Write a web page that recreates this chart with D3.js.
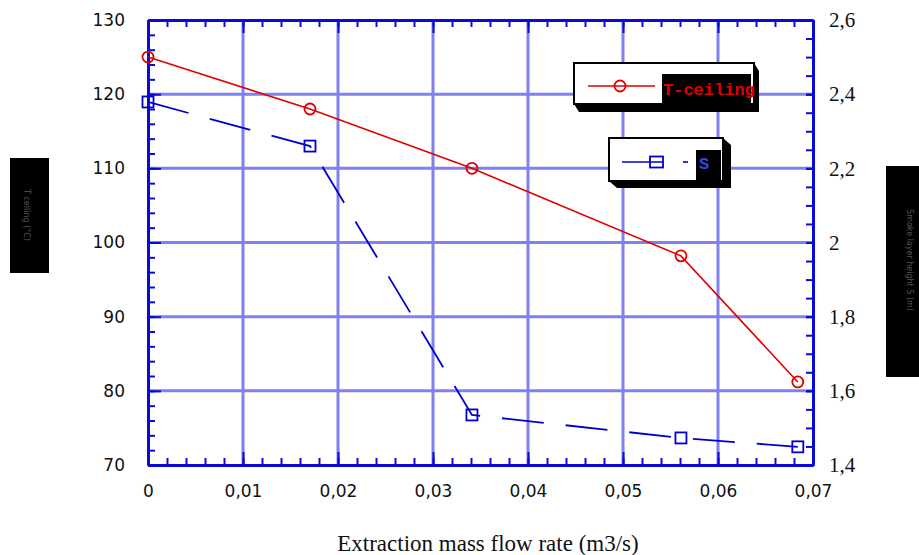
<!DOCTYPE html>
<meta charset="utf-8">
<head>
    <script src="https://d3js.org/d3.v7.min.js"></script>
    <style>
        body { margin: 0; background: white; }
        svg { display: block; }
    </style>
</head>
<body>
<div id="my_dataviz"></div>
<script>
    // data
    const flowRates = [0, 0.01705, 0.0341, 0.0561, 0.0684];
    const tCeiling = [125.0, 118.0, 110.0, 98.2, 81.2];
    const sValues = [2.379, 2.26, 1.535, 1.473, 1.449];

    const xTicks = [0, 0.01, 0.02, 0.03, 0.04, 0.05, 0.06, 0.07];
    const xTickLabels = ["0", "0,01", "0,02", "0,03", "0,04", "0,05", "0,06", "0,07"];
    const leftTicks = [70, 80, 90, 100, 110, 120, 130];
    const rightTicks = [1.4, 1.6, 1.8, 2, 2.2, 2.4, 2.6];
    const rightTickLabels = ["1,4", "1,6", "1,8", "2", "2,2", "2,4", "2,6"];

    const legendLabels = ["T-ceiling", "S"];

    const svg = d3.select("#my_dataviz").append("svg")
        .attr("width", 919)
        .attr("height", 555)

    const x = d3.scaleLinear().domain([0, 0.07]).range([148, 813])
    const yLeft = d3.scaleLinear().domain([70, 130]).range([465, 20])
    const yRight = d3.scaleLinear().domain([1.4, 2.6]).range([465, 20])

    const gridColor = "#8080ee"
    const axisColor = "#0a0ad8"

    // grid
    svg.append("g")
        .selectAll("line")
        .data(xTicks.slice(1, -1))
        .enter()
        .append("line")
        .attr("x1", d => x(d)).attr("x2", d => x(d))
        .attr("y1", 20).attr("y2", 465)
        .attr("stroke", gridColor)
        .attr("stroke-width", 3)

    svg.append("g")
        .selectAll("line")
        .data(leftTicks.slice(1, -1))
        .enter()
        .append("line")
        .attr("x1", 148).attr("x2", 813)
        .attr("y1", d => yLeft(d)).attr("y2", d => yLeft(d))
        .attr("stroke", gridColor)
        .attr("stroke-width", 3)

    function styleAxis(g) {
        g.selectAll(".domain").attr("stroke", axisColor).attr("stroke-width", 3)
        g.selectAll(".tick line").attr("stroke", axisColor).attr("stroke-width", 2)
    }

    const minorX = d3.range(0, 0.0701, 0.002)
    const minorLeft = d3.range(70, 130.1, 2)
    const minorRight = d3.range(1.4, 2.601, 0.05)

    // bottom axis
    svg.append("g")
        .attr("transform", "translate(0,465)")
        .call(d3.axisBottom(x).tickValues(minorX).tickSize(-7).tickSizeOuter(0).tickFormat(""))
        .call(styleAxis)

    svg.append("g")
        .attr("class", "bottom axis")
        .attr("transform", "translate(0,465)")
        .call(d3.axisBottom(x).tickValues(xTicks).tickSize(-13).tickSizeOuter(0).tickPadding(20)
            .tickFormat((d, i) => xTickLabels[i]))
        .call(styleAxis)

    // top axis
    svg.append("g")
        .attr("transform", "translate(0,20)")
        .call(d3.axisTop(x).tickValues(minorX).tickSize(-7).tickSizeOuter(0).tickFormat(""))
        .call(styleAxis)

    svg.append("g")
        .attr("transform", "translate(0,20)")
        .call(d3.axisTop(x).tickValues(xTicks).tickSize(-13).tickSizeOuter(0).tickFormat(""))
        .call(styleAxis)

    // left axis
    svg.append("g")
        .attr("transform", "translate(148,0)")
        .call(d3.axisLeft(yLeft).tickValues(minorLeft).tickSize(-7).tickSizeOuter(0).tickFormat(""))
        .call(styleAxis)

    svg.append("g")
        .attr("class", "left axis")
        .attr("transform", "translate(148,0)")
        .call(d3.axisLeft(yLeft).tickValues(leftTicks).tickSize(-13).tickSizeOuter(0).tickPadding(23))
        .call(styleAxis)

    // right axis
    svg.append("g")
        .attr("class", "right axis")
        .attr("transform", "translate(813,0)")
        .call(d3.axisRight(yRight).tickValues(minorRight).tickSize(-7).tickSizeOuter(0).tickFormat(""))
        .call(styleAxis)

    svg.append("g")
        .attr("class", "right axis")
        .attr("transform", "translate(813,0)")
        .call(d3.axisRight(yRight).tickValues(rightTicks).tickSize(-7).tickSizeOuter(0).tickPadding(16)
            .tickFormat((d, i) => rightTickLabels[i]))
        .call(styleAxis)

    svg.selectAll(".bottom.axis text, .left.axis text")
        .attr("fill", "#111")
        .style("font-family", "DejaVu Sans")
        .style("font-size", "17px")

    svg.selectAll(".right.axis text")
        .attr("fill", "#111")
        .style("font-family", "Liberation Serif")
        .style("font-size", "21px")

    // T-ceiling series
    const redData = flowRates.map((f, i) => ({ x: f, y: tCeiling[i] }))
    svg.append("path")
        .datum(redData)
        .attr("d", d3.line().x(d => x(d.x)).y(d => yLeft(d.y)))
        .attr("fill", "none")
        .attr("stroke", "#e00000")
        .attr("stroke-width", 1.6)

    svg.selectAll("circle.pt")
        .data(redData)
        .enter()
        .append("circle")
        .attr("class", "pt")
        .attr("cx", d => x(d.x))
        .attr("cy", d => yLeft(d.y))
        .attr("r", 5.5)
        .attr("fill", "none")
        .attr("stroke", "#e00000")
        .attr("stroke-width", 1.8)

    // S series
    const blueData = flowRates.map((f, i) => ({ x: f, y: sValues[i] }))
    svg.append("path")
        .datum(blueData)
        .attr("d", d3.line().x(d => x(d.x)).y(d => yRight(d.y)))
        .attr("fill", "none")
        .attr("stroke", "#0000cc")
        .attr("stroke-width", 1.8)
        .attr("stroke-dasharray", "42,22")

    svg.selectAll("rect.pt")
        .data(blueData)
        .enter()
        .append("rect")
        .attr("class", "pt")
        .attr("x", d => x(d.x) - 5.5)
        .attr("y", d => yRight(d.y) - 5.5)
        .attr("width", 11)
        .attr("height", 11)
        .attr("fill", "none")
        .attr("stroke", "#0000cc")
        .attr("stroke-width", 1.8)

    // legend boxes
    function legendBox(x0, y0, x1, y1, dx, dy) {
        svg.append("polygon")
            .attr("points", [[x0, y1], [x0 + dx, y1 + dy], [x1 + dx, y1 + dy], [x1 + dx, y0 + dy], [x1, y0]].join(" "))
            .attr("fill", "black")
        svg.append("rect")
            .attr("x", x0).attr("y", y0)
            .attr("width", x1 - x0).attr("height", y1 - y0)
            .attr("fill", "white")
            .attr("stroke", "black")
            .attr("stroke-width", 2)
    }

    legendBox(574, 63, 754, 104, 5, 8)
    svg.append("rect").attr("x", 662).attr("y", 74).attr("width", 89).attr("height", 38).attr("fill", "black")
    svg.append("line")
        .attr("x1", 588).attr("x2", 655).attr("y1", 86).attr("y2", 86)
        .attr("stroke", "#e00000").attr("stroke-width", 1.6)
    svg.append("circle")
        .attr("cx", 620).attr("cy", 86).attr("r", 5.5)
        .attr("fill", "none").attr("stroke", "#e00000").attr("stroke-width", 1.8)
    svg.append("text")
        .attr("x", 663).attr("y", 95)
        .attr("fill", "#e00000")
        .style("font-family", "Liberation Mono")
        .style("font-weight", "bold")
        .style("font-size", "17px")
        .text(legendLabels[0])

    legendBox(609, 138, 723, 181, 8, 7)
    svg.append("rect").attr("x", 696).attr("y", 150).attr("width", 25).attr("height", 38).attr("fill", "black")
    svg.append("line")
        .attr("x1", 622).attr("x2", 663).attr("y1", 162).attr("y2", 162)
        .attr("stroke", "#0000cc").attr("stroke-width", 1.6)
    svg.append("rect")
        .attr("x", 650).attr("y", 156.5).attr("width", 13).attr("height", 11)
        .attr("fill", "none").attr("stroke", "#0000cc").attr("stroke-width", 1.8)
    svg.append("line")
        .attr("x1", 683).attr("x2", 688).attr("y1", 162).attr("y2", 162)
        .attr("stroke", "#0000cc").attr("stroke-width", 1.6)
    svg.append("text")
        .attr("x", 699).attr("y", 169)
        .attr("fill", "#3344ee")
        .style("font-family", "Liberation Mono")
        .style("font-weight", "bold")
        .style("font-size", "17px")
        .text(legendLabels[1])

    // axis title blocks (rendered dark in the source)
    svg.append("rect").attr("x", 10).attr("y", 158).attr("width", 39).attr("height", 115).attr("fill", "black")
    svg.append("text")
        .attr("transform", "translate(24,215) rotate(90)")
        .attr("text-anchor", "middle")
        .attr("fill", "#555")
        .style("font-family", "DejaVu Sans")
        .style("font-size", "8px")
        .text("T ceiling (°C)")

    svg.append("rect").attr("x", 886).attr("y", 166).attr("width", 33).attr("height", 211).attr("fill", "black")
    svg.append("text")
        .attr("transform", "translate(907,260) rotate(90)")
        .attr("text-anchor", "middle")
        .attr("fill", "#555")
        .style("font-family", "DejaVu Sans")
        .style("font-size", "8px")
        .text("Smoke layer height S (m)")

    // x title
    svg.append("text")
        .attr("x", 488).attr("y", 551)
        .attr("text-anchor", "middle")
        .attr("fill", "#111")
        .style("font-family", "Liberation Serif")
        .style("font-size", "23px")
        .text("Extraction mass flow rate (m3/s)")
</script>
</body>
